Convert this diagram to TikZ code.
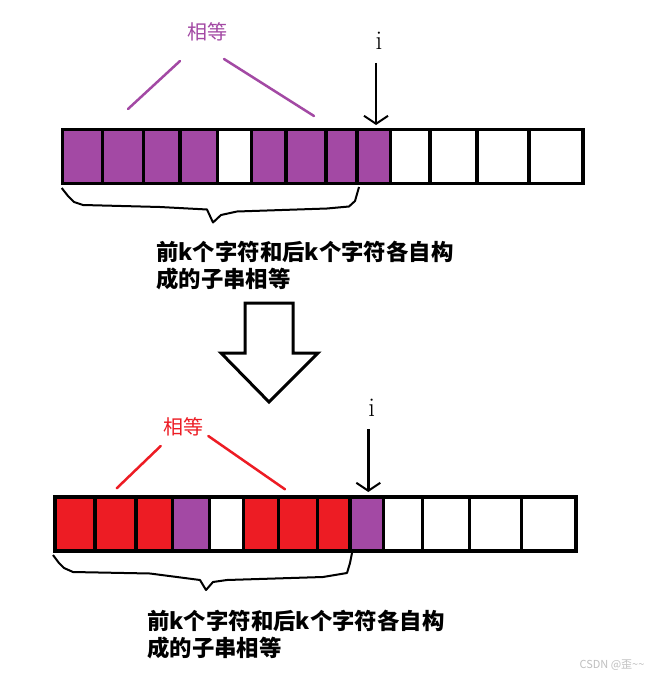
\documentclass[tikz,border=0pt]{standalone}
\usepackage{fontspec}
\newfontfamily\cjk{Noto Sans CJK SC}
\usetikzlibrary{arrows.meta}
\definecolor{paintpurple}{HTML}{A349A4}
\definecolor{paintred}{HTML}{ED1C24}
\tikzset{
cell/.style={draw, line width=3.5pt, minimum height=54, inner sep=0pt, outer sep=0pt},
eqlabel/.style={font=\cjk\fontsize{20}{24}\selectfont, inner sep=0pt},
eqline/.style={line width=2.5pt, line cap=round},
ilabel/.style={font=\fontsize{27}{30}\selectfont, inner sep=0pt},
iarrow/.style={line width=2.5pt, -{Straight Barb[length=8pt, width=24pt, line width=2pt]}},
desc/.style={font=\cjk\bfseries\fontsize{22.4}{27}\selectfont, align=left, inner sep=0pt, anchor=north west},
brace/.style={line width=2pt, line join=round},
bigarrow/.style={draw, line width=3pt, fill=white},
}

\begin{document}
\begin{tikzpicture}[x=1pt, y=-1pt]
\path[fill=white, use as bounding box] (0,0) rectangle (660,679);

\foreach \a/\b/\c [count=\n] in {
62.7/102.7/paintpurple, 102.7/143.3/paintpurple, 143.3/180/paintpurple,
180/217.3/paintpurple, 217.3/251.3/white, 251.3/286/paintpurple,
286/326/paintpurple, 326/357/paintpurple, 357/390.7/paintpurple,
390.7/430/white, 430/477/white, 477/529/white, 529/583/white}
\node[cell, fill=\c, minimum width={\b-\a}] (t\n) at ({(\a+\b)/2}, 156.5) {};

\node[eqlabel, text=paintpurple] (eqtop) at (207, 32) {相等};
\coordinate (eqtopl1) at (180, 61);
\coordinate (eqtopl2) at (128, 109);
\coordinate (eqtopr1) at (224, 59);
\coordinate (eqtopr2) at (314, 116);
\draw[eqline, paintpurple] (eqtopl1) -- (eqtopl2);
\draw[eqline, paintpurple] (eqtopr1) -- (eqtopr2);

\node[ilabel] (itop) at (379, 41) {i};
\coordinate (itop1) at (376, 63);
\coordinate (itop2) at (376, 125);
\draw[iarrow] (itop1) -- (itop2);

\draw[brace] (61.7,188) -- (68,196) -- (74,202) -- (83,205) -- (160,207)
-- (207,209.5) -- (213,222.5) -- (221,215) -- (237,211.5) -- (327,208.5)
-- (349,206.5) -- (355,201) -- (359,187);

\node[desc] (desctop) at (156, 240.5) {前k个字符和后k个字符各自构\\成的子串相等};

\path[bigarrow] (245,303) -- (293,303) -- (293,353) -- (318,353)
-- (269,402) -- (221,353) -- (245,353) -- cycle;

\foreach \a/\b/\c [count=\n] in {
55/95/paintred, 95/136/paintred, 136/172.7/paintred,
172.7/209.3/paintpurple, 209.3/243.3/white, 243.3/278.7/paintred,
278.7/317.3/paintred, 317.3/350/paintred, 350/383.3/paintpurple,
383.3/422.3/white, 422.3/469.3/white, 469.3/521.7/white, 521.7/576/white}
\node[cell, fill=\c, minimum width={\b-\a}] (b\n) at ({(\a+\b)/2}, 524) {};

\node[eqlabel, text=paintred] (eqbot) at (183, 427) {相等};
\coordinate (eqbotl1) at (160.7, 446);
\coordinate (eqbotl2) at (116.7, 488.3);
\coordinate (eqbotr1) at (208.3, 436);
\coordinate (eqbotr2) at (285, 489.3);
\draw[eqline, paintred] (eqbotl1) -- (eqbotl2);
\draw[eqline, paintred] (eqbotr1) -- (eqbotr2);

\node[ilabel] (ibot) at (371.7, 408) {i};
\coordinate (ibot1) at (368.3, 429);
\coordinate (ibot2) at (368.3, 492);
\draw[iarrow] (ibot1) -- (ibot2);

\draw[brace] (53,555) -- (59,563) -- (64,568) -- (73,572) -- (150,573.5)
-- (200,580) -- (206,590) -- (213,582) -- (227,580) -- (323,577)
-- (347,573) -- (350,563) -- (352,553);

\node[desc] (descbot) at (147, 609.5) {前k个字符和后k个字符各自构\\成的子串相等};

\node[font=\cjk\fontsize{11}{13}\selectfont, text=black!25] (mark) at (612, 665) {CSDN @歪\textasciitilde\textasciitilde};
\end{tikzpicture}
\end{document}
